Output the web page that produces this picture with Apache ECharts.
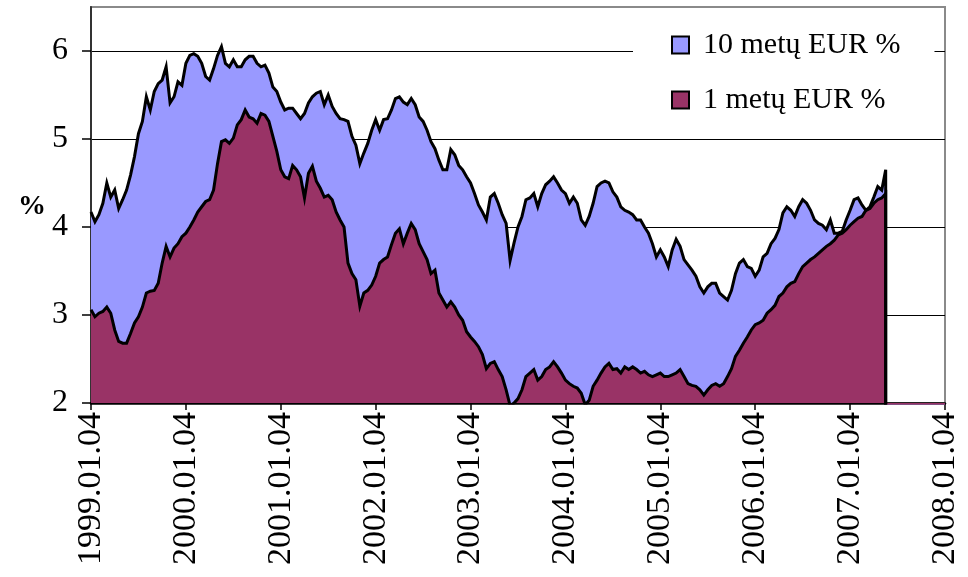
<!DOCTYPE html>
<html>
<head>
<meta charset="utf-8">
<script src="https://cdn.jsdelivr.net/npm/echarts@6/dist/echarts.min.js"></script>
<style>
  html, body { margin: 0; padding: 0; background: #fff; }
  #chart { width: 968px; height: 577px; }
</style>
</head>
<body>
<div id="chart"></div>
<script>
// Axis labels
const xLabels = ['1999.01.04', '2000.01.04', '2001.01.04', '2002.01.04', '2003.01.04',
                 '2004.01.04', '2005.01.04', '2006.01.04', '2007.01.04', '2008.01.04'];
const yTicks = [2, 3, 4, 5, 6];

// Series names
const seriesNames = ['10 metų EUR %', '1 metų EUR %'];

// Readings taken twice a month from 1999.01.04 onward (24 per year)
const samplesPerYear = 24;

const tenYear = [
  4.17, 4.06, 4.14, 4.27, 4.50, 4.34, 4.42, 4.21, 4.31, 4.42, 4.59, 4.80,
  5.06, 5.20, 5.48, 5.33, 5.54, 5.63, 5.67, 5.82, 5.41, 5.48, 5.65, 5.61,
  5.86, 5.95, 5.97, 5.94, 5.86, 5.71, 5.67, 5.80, 5.95, 6.05, 5.86, 5.82,
  5.90, 5.82, 5.82, 5.90, 5.94, 5.94, 5.86, 5.82, 5.84, 5.75, 5.59, 5.54,
  5.42, 5.33, 5.35, 5.35, 5.29, 5.23, 5.29, 5.41, 5.48, 5.52, 5.54, 5.39,
  5.50, 5.37, 5.29, 5.23, 5.22, 5.20, 5.03, 4.93, 4.72, 4.84, 4.95, 5.10,
  5.22, 5.10, 5.22, 5.23, 5.33, 5.46, 5.48, 5.42, 5.39, 5.46, 5.39, 5.25,
  5.20, 5.10, 4.97, 4.89, 4.76, 4.65, 4.65, 4.88, 4.82, 4.70, 4.65, 4.57,
  4.50, 4.38, 4.25, 4.17, 4.08, 4.34, 4.38, 4.27, 4.14, 4.04, 3.62, 3.82,
  4.00, 4.12, 4.31, 4.33, 4.38, 4.23, 4.38, 4.48, 4.52, 4.57, 4.50, 4.42,
  4.38, 4.27, 4.34, 4.27, 4.08, 4.02, 4.12, 4.27, 4.46, 4.50, 4.52, 4.50,
  4.40, 4.34, 4.23, 4.19, 4.17, 4.14, 4.08, 4.08, 4.00, 3.93, 3.81, 3.66,
  3.74, 3.66, 3.55, 3.74, 3.86, 3.78, 3.63, 3.57, 3.51, 3.44, 3.32, 3.25,
  3.32, 3.36, 3.36, 3.25, 3.21, 3.17, 3.28, 3.47, 3.59, 3.63, 3.55, 3.53,
  3.44, 3.51, 3.66, 3.70, 3.81, 3.87, 3.97, 4.16, 4.23, 4.19, 4.12, 4.23,
  4.31, 4.27, 4.19, 4.08, 4.04, 4.02, 3.97, 4.08, 3.93, 3.93, 3.95, 4.08,
  4.19, 4.31, 4.33, 4.25, 4.19, 4.23, 4.34, 4.46, 4.42, 4.65
];

const oneYear = [
  3.06, 2.98, 3.02, 3.04, 3.09, 3.02, 2.83, 2.70, 2.68, 2.68, 2.79, 2.91,
  2.98, 3.09, 3.25, 3.27, 3.28, 3.36, 3.59, 3.78, 3.66, 3.76, 3.81, 3.89,
  3.93, 4.00, 4.08, 4.17, 4.23, 4.29, 4.31, 4.42, 4.72, 4.97, 4.99, 4.95,
  5.01, 5.16, 5.22, 5.33, 5.25, 5.23, 5.18, 5.29, 5.27, 5.20, 5.03, 4.86,
  4.65, 4.57, 4.55, 4.70, 4.65, 4.57, 4.33, 4.61, 4.69, 4.52, 4.44, 4.34,
  4.36, 4.31, 4.17, 4.08, 4.00, 3.59, 3.47, 3.40, 3.10, 3.25, 3.28, 3.34,
  3.44, 3.59, 3.63, 3.66, 3.80, 3.93, 3.98, 3.81, 3.93, 4.04, 3.97, 3.81,
  3.72, 3.63, 3.47, 3.51, 3.25, 3.17, 3.09, 3.15, 3.09, 3.00, 2.94, 2.81,
  2.75, 2.70, 2.64, 2.55, 2.39, 2.45, 2.47, 2.38, 2.30, 2.15, 1.97, 2.00,
  2.05, 2.15, 2.30, 2.34, 2.38, 2.26, 2.30, 2.38, 2.41, 2.47, 2.41, 2.34,
  2.26, 2.22, 2.19, 2.17, 2.11, 1.98, 2.03, 2.19, 2.26, 2.34, 2.41, 2.45,
  2.38, 2.39, 2.34, 2.41, 2.38, 2.41, 2.38, 2.34, 2.36, 2.32, 2.30, 2.32,
  2.34, 2.30, 2.30, 2.32, 2.34, 2.38, 2.30, 2.22, 2.20, 2.19, 2.15, 2.09,
  2.15, 2.20, 2.22, 2.19, 2.22, 2.30, 2.39, 2.53, 2.60, 2.68, 2.75, 2.83,
  2.89, 2.91, 2.94, 3.02, 3.06, 3.11, 3.21, 3.25, 3.32, 3.36, 3.38, 3.47,
  3.55, 3.59, 3.63, 3.66, 3.70, 3.74, 3.78, 3.81, 3.85, 3.91, 3.93, 3.97,
  4.02, 4.06, 4.10, 4.12, 4.19, 4.21, 4.27, 4.31, 4.33, 4.38
];

// Empty cells after the last reading are plotted as zero, like the source sheet does
const emptyValue = 0;

const colors = { tenYear: '#9999FF', oneYear: '#993366' };
const FONT = 'Liberation Serif';

function toPoints(values) {
  const pts = values.map((v, i) => [i / samplesPerYear, v]);
  const lastX = pts[pts.length - 1][0];
  pts.push([lastX, emptyValue], [xLabels.length - 1, emptyValue]);
  return pts;
}

function areaSeries(name, data, fill) {
  return {
    name: name,
    type: 'line',
    data: toPoints(data),
    showSymbol: false,
    symbol: 'none',
    clip: true,
    itemStyle: { color: fill },
    lineStyle: { color: '#000', width: 3, join: 'miter' },
    areaStyle: { color: fill, opacity: 1, origin: 'start' },
    emphasis: { disabled: true }
  };
}

const chart = echarts.init(document.getElementById('chart'), null, { renderer: 'canvas' });

chart.setOption({
  animation: false,
  backgroundColor: '#fff',
  grid: {
    left: 91, right: 23, top: 7, bottom: 174,
    show: true, borderColor: '#8a8a8a', borderWidth: 2, backgroundColor: 'transparent'
  },
  legend: {
    orient: 'vertical',
    left: 633, top: 12,
    padding: [17, 34, 18, 38],
    backgroundColor: '#fff',
    itemWidth: 17, itemHeight: 17,
    itemGap: 23,
    icon: 'rect',
    itemStyle: { borderColor: '#000', borderWidth: 2 },
    textStyle: { fontFamily: FONT, fontSize: 30, color: '#000', lineHeight: 32, padding: [0, 0, 0, 9] },
    data: seriesNames,
    selectedMode: false
  },
  xAxis: {
    type: 'value',
    min: 0, max: xLabels.length - 1, interval: 1,
    axisLine: { show: true, lineStyle: { color: '#000', width: 2.5 } },
    axisTick: { show: true, inside: false, length: 7, lineStyle: { color: '#000', width: 1.5 } },
    splitLine: { show: false },
    axisLabel: {
      rotate: 90, margin: 9,
      fontFamily: FONT, fontSize: 34, color: '#000',
      formatter: v => xLabels[Math.round(v)] || ''
    }
  },
  yAxis: {
    type: 'value',
    min: 2, max: 6.5, interval: 1,
    axisLine: { show: true, lineStyle: { color: '#333', width: 2 } },
    axisTick: { show: true, inside: false, length: 9, lineStyle: { color: '#000', width: 1.5 },
                customValues: yTicks },
    splitLine: { show: true, lineStyle: { color: '#000', width: 1 } },
    axisLabel: {
      margin: 23, fontFamily: FONT, fontSize: 32, color: '#000',
      customValues: yTicks,
      formatter: v => String(v)
    }
  },
  graphic: [{
    type: 'text',
    left: 18, top: 193,
    style: { text: '%', fontFamily: FONT, fontSize: 28, fontWeight: 'bold', fill: '#000' }
  }],
  series: [
    areaSeries(seriesNames[0], tenYear, colors.tenYear),
    areaSeries(seriesNames[1], oneYear, colors.oneYear)
  ]
});
</script>
</body>
</html>
